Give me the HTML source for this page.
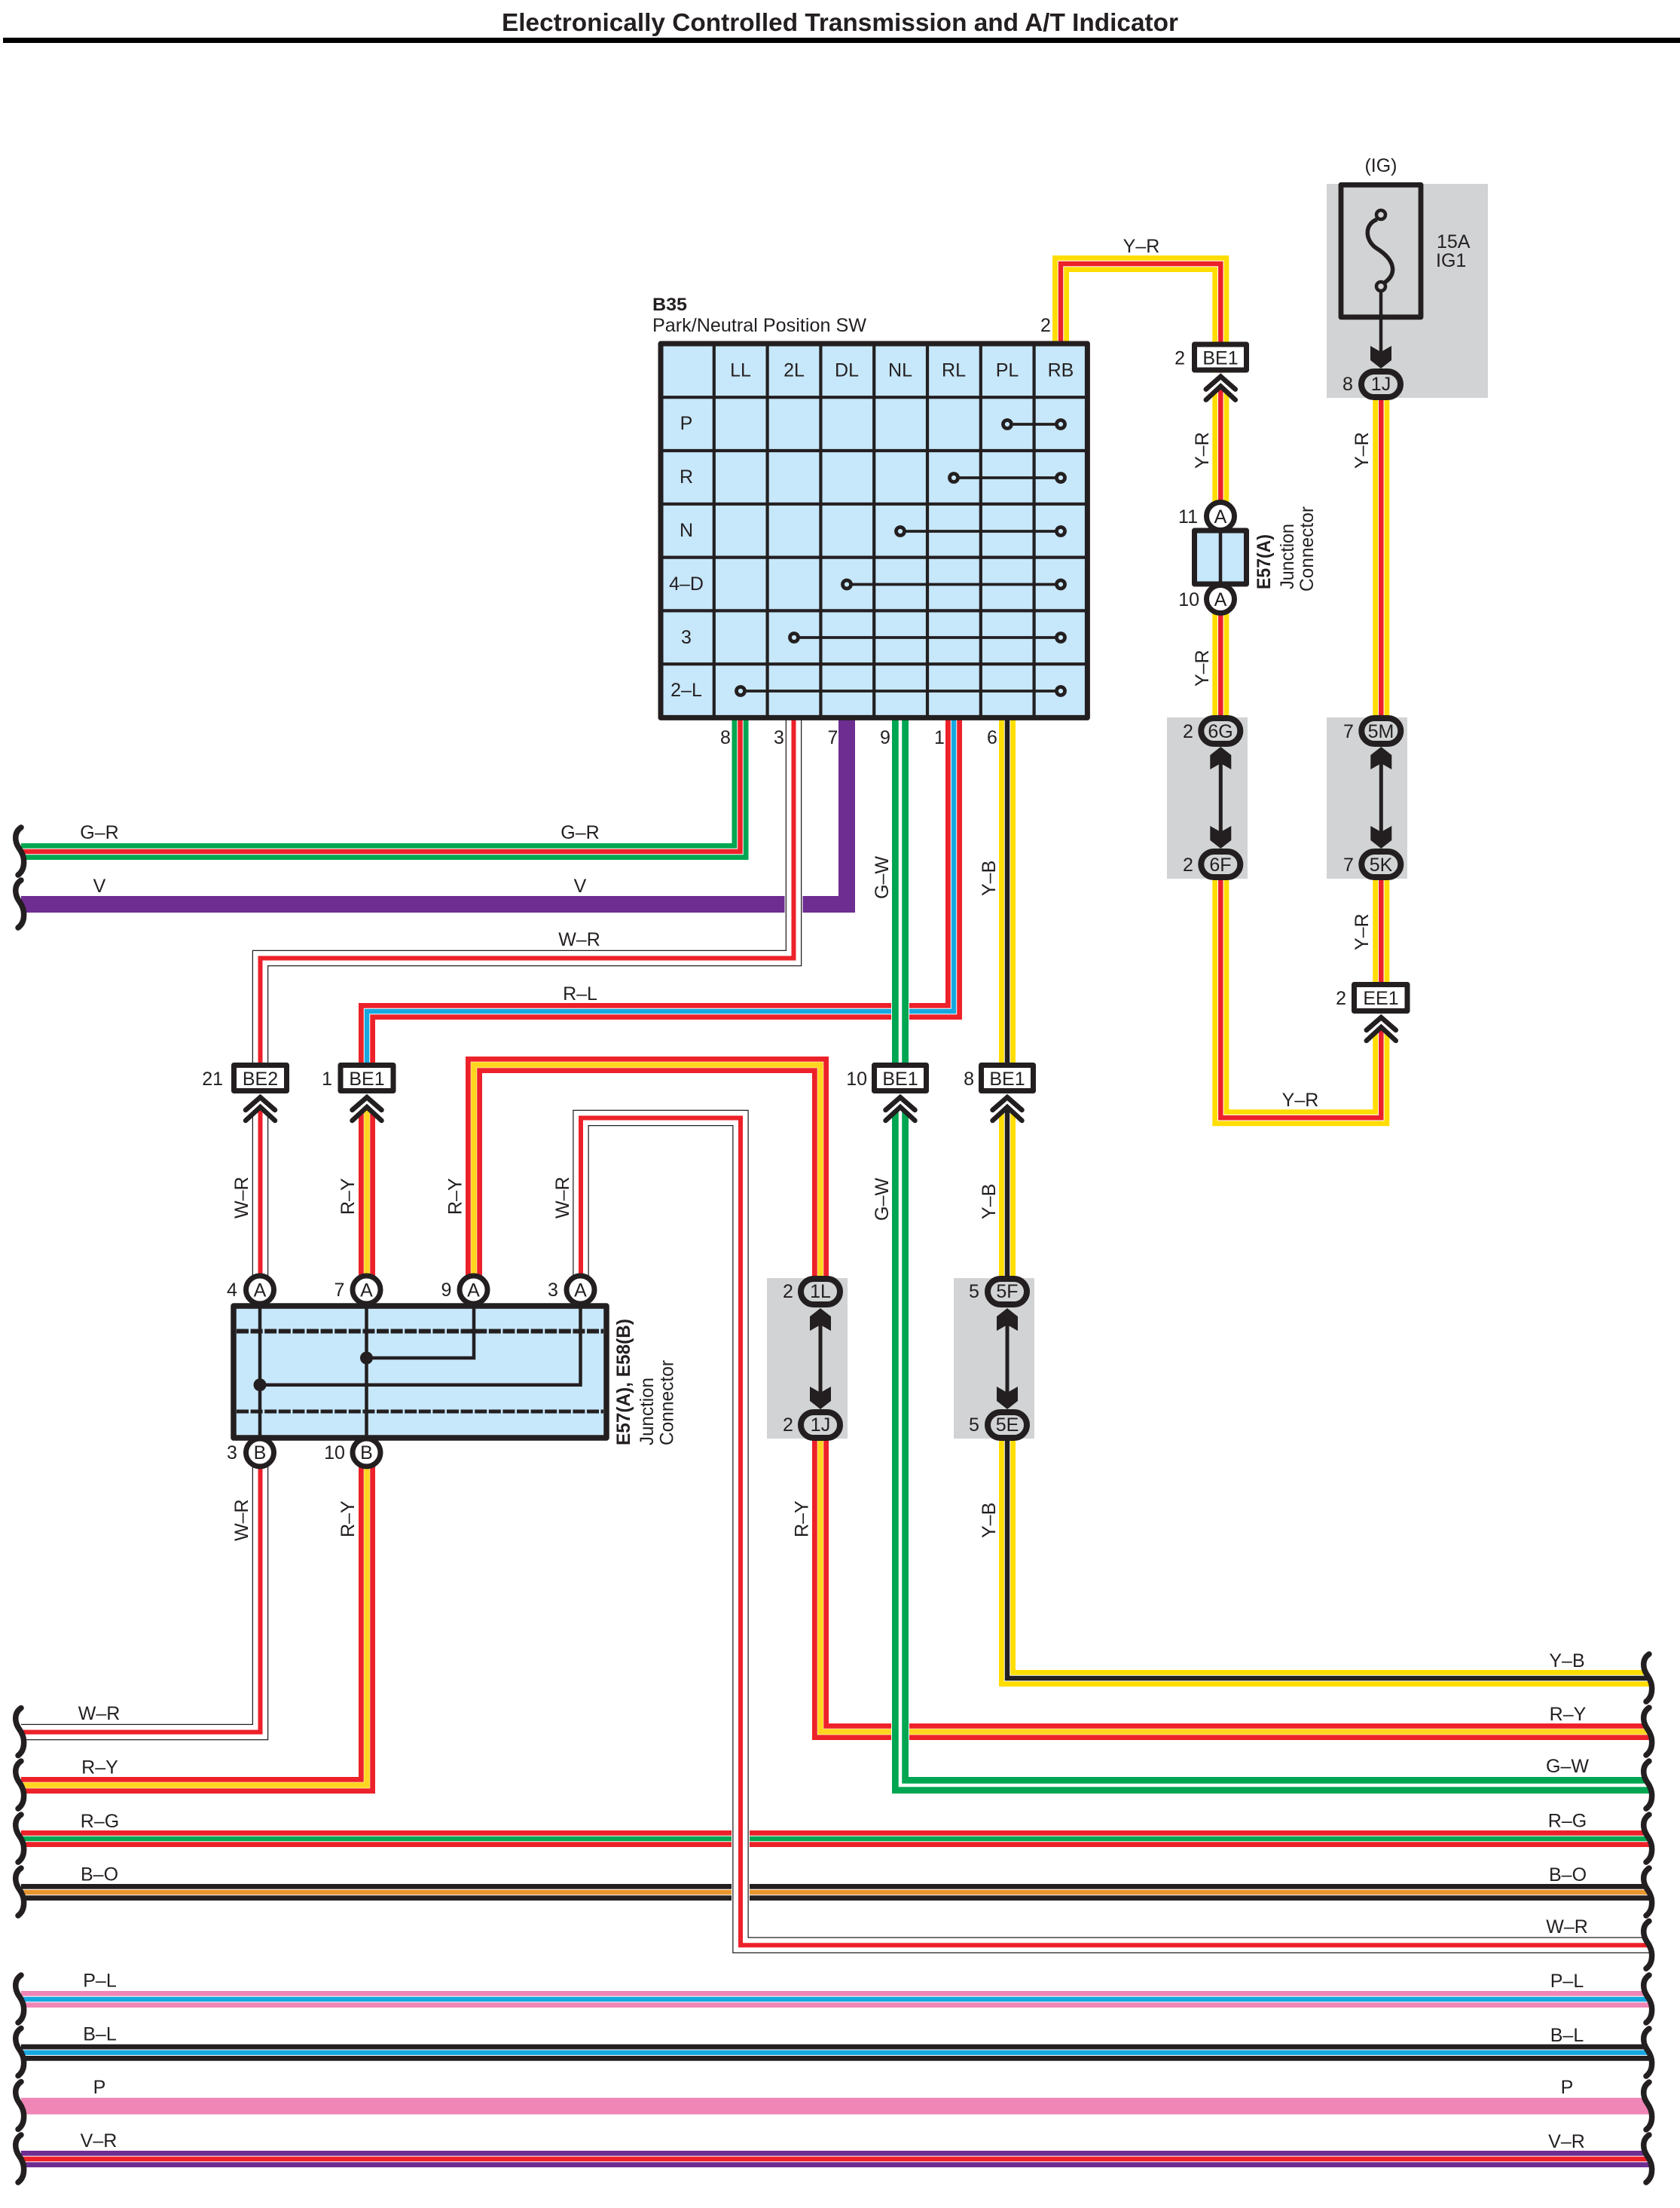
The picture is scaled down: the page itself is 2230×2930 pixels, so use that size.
<!DOCTYPE html>
<html>
<head>
<meta charset="utf-8">
<style>
html,body{margin:0;padding:0;background:#fff}
svg{display:block}
text{font-family:"Liberation Sans",Arial,sans-serif;font-size:25px;fill:#231f20}
.m{text-anchor:middle}
.e{text-anchor:end}
.b{font-weight:bold}
</style>
</head>
<body>
<svg xmlns="http://www.w3.org/2000/svg" width="2230" height="2930" viewBox="0 0 2230 2930">
<defs>
  <g id="wl">
    <path d="M28,-32C22,-28 20,-22 21,-15C22,-7 27,-3 29,2C31,6 32,12 31.5,17C31,23 28,28 24,31L0,31L0,-32Z" fill="#fff"/>
    <path d="M28,-32C22,-28 20,-22 21,-15C22,-7 27,-3 29,2C31,6 32,12 31.5,17C31,23 28,28 24,31" fill="none" stroke="#231f20" stroke-width="7.5" stroke-linecap="round"/>
  </g>
  <g id="wr">
    <path d="M2189,-32C2183,-28 2181,-22 2182,-15C2183,-7 2188,-3 2190,2C2192,6 2193,12 2192.5,17C2192,23 2189,28 2185,31L2230,31L2230,-32Z" fill="#fff"/>
    <path d="M2189,-32C2183,-28 2181,-22 2182,-15C2183,-7 2188,-3 2190,2C2192,6 2193,12 2192.5,17C2192,23 2189,28 2185,31" fill="none" stroke="#231f20" stroke-width="7.5" stroke-linecap="round"/>
  </g>
  <g id="chev">
    <polygon points="-24,0 24,0 24,41 0,17 -24,41" fill="#fff"/>
    <polyline points="-19.5,22 0,5 19.5,22" fill="none" stroke="#231f20" stroke-width="6.5" stroke-linecap="round"/>
    <polyline points="-19.5,36 0,18 19.5,36" fill="none" stroke="#231f20" stroke-width="6.5" stroke-linecap="round"/>
  </g>
  <polygon id="au" points="0,0 14,11 14,30 0,22 -14,30 -14,11" fill="#231f20"/>
  <polygon id="ad" points="0,0 14,-11 14,-30 0,-22 -14,-30 -14,-11" fill="#231f20"/>

  <path id="p-gr" d="M28,1130H982.5V950"/>
  <path id="p-v" d="M28,1200H1124V950"/>
  <path id="p-rl" d="M1266,950V1342H487V1411"/>
  <path id="p-wr1" d="M1053.5,950V1271.5H345.5V1411"/>
  <path id="p-wr2" d="M345.5,1711V1451"/>
  <path id="p-wr3" d="M345.5,1927V2298.5H28"/>
  <path id="p-wr4" d="M771,1711V1483.5H983V2581.3H2195"/>
  <path id="p-ry1" d="M487,1711V1451"/>
  <path id="p-ry2" d="M487,1927V2369H28"/>
  <path id="p-ry3" d="M629,1711V1413H1089V1714"/>
  <path id="p-ry4" d="M1089,1891V2298H2195"/>
  <path id="p-gw" d="M1195,950V2369H2195"/>
  <path id="p-yb1" d="M1337,950V1714"/>
  <path id="p-yb2" d="M1337,1891V2227H2195"/>
  <path id="p-yr1" d="M1408,460V350H1620.3V970"/>
  <path id="p-yr2" d="M1620.3,1147V1483.3H1833.3V1147"/>
  <path id="p-yr3" d="M1833.3,509V970"/>
</defs>

<rect width="2230" height="2930" fill="#fff"/>

<!-- title -->
<text x="666" y="41" class="b" style="font-size:33px" textLength="898" lengthAdjust="spacingAndGlyphs">Electronically Controlled Transmission and A/T Indicator</text>
<rect x="4" y="50" width="2226" height="7" fill="#000"/>

<!-- gray splice backgrounds -->
<g fill="#d1d3d4">
  <rect x="1761" y="244" width="214" height="284"/>
  <rect x="1549" y="952" width="107" height="214"/>
  <rect x="1761" y="952" width="107" height="214"/>
  <rect x="1018" y="1696" width="107" height="213"/>
  <rect x="1266" y="1696" width="107" height="213"/>
</g>

<g fill="none" stroke-linejoin="miter">
  <!-- through rows -->
  <path d="M28,2440H2195" stroke="#ed2129" stroke-width="22"/>
  <path d="M28,2440H2195" stroke="#fff" stroke-width="8.5"/>
  <path d="M28,2440H2195" stroke="#00a651" stroke-width="6.5"/>
  <path d="M28,2511H2195" stroke="#231f20" stroke-width="22"/>
  <path d="M28,2511H2195" stroke="#fff" stroke-width="8.5"/>
  <path d="M28,2511H2195" stroke="#e8962e" stroke-width="6.5"/>
  <path d="M28,2653H2195" stroke="#f086b5" stroke-width="22"/>
  <path d="M28,2653H2195" stroke="#fff" stroke-width="8.5"/>
  <path d="M28,2653H2195" stroke="#17a8e0" stroke-width="6.5"/>
  <path d="M28,2723.7H2195" stroke="#231f20" stroke-width="22"/>
  <path d="M28,2723.7H2195" stroke="#fff" stroke-width="8.5"/>
  <path d="M28,2723.7H2195" stroke="#17a8e0" stroke-width="6.5"/>
  <path d="M28,2794.7H2195" stroke="#f086b5" stroke-width="22"/>
  <path d="M28,2865H2195" stroke="#6e2d91" stroke-width="22"/>
  <path d="M28,2865H2195" stroke="#fff" stroke-width="8.5"/>
  <path d="M28,2865H2195" stroke="#ed2129" stroke-width="6.5"/>

  <!-- G-R -->
  <use href="#p-gr" stroke="#00a651" stroke-width="22"/>
  <use href="#p-gr" stroke="#fff" stroke-width="8.5"/>
  <use href="#p-gr" stroke="#ed2129" stroke-width="6.5"/>
  <!-- V -->
  <use href="#p-v" stroke="#6e2d91" stroke-width="22"/>
  <!-- R-L -->
  <use href="#p-rl" stroke="#ed2129" stroke-width="22"/>
  <use href="#p-rl" stroke="#fff" stroke-width="8.5"/>
  <use href="#p-rl" stroke="#17a8e0" stroke-width="6.5"/>
  <!-- R-Y -->
  <g stroke="#ed2129" stroke-width="22">
    <use href="#p-ry1"/><use href="#p-ry2"/><use href="#p-ry3"/><use href="#p-ry4"/>
  </g>
  <g stroke="#fff" stroke-width="8.5">
    <use href="#p-ry1"/><use href="#p-ry2"/><use href="#p-ry3"/><use href="#p-ry4"/>
  </g>
  <g stroke="#ffd520" stroke-width="7.5">
    <use href="#p-ry1"/><use href="#p-ry2"/><use href="#p-ry3"/><use href="#p-ry4"/>
  </g>
  <!-- Y-B -->
  <g stroke="#ffdd00" stroke-width="22"><use href="#p-yb1"/><use href="#p-yb2"/></g>
  <g stroke="#fff" stroke-width="8.5"><use href="#p-yb1"/><use href="#p-yb2"/></g>
  <g stroke="#231f20" stroke-width="6.5"><use href="#p-yb1"/><use href="#p-yb2"/></g>
  <!-- Y-R -->
  <g stroke="#ffdd00" stroke-width="22"><use href="#p-yr1"/><use href="#p-yr2"/><use href="#p-yr3"/></g>
  <g stroke="#fff" stroke-width="8.5"><use href="#p-yr1"/><use href="#p-yr2"/><use href="#p-yr3"/></g>
  <g stroke="#ed2129" stroke-width="6.5"><use href="#p-yr1"/><use href="#p-yr2"/><use href="#p-yr3"/></g>
  <!-- G-W over others -->
  <use href="#p-gw" stroke="#fff" stroke-width="24"/>
  <use href="#p-gw" stroke="#00a651" stroke-width="22"/>
  <use href="#p-gw" stroke="#fff" stroke-width="4.5"/>
  <!-- W-R -->
  <g stroke="#fff" stroke-width="24"><use href="#p-wr1"/><use href="#p-wr4"/></g>
  <g stroke="#231f20" stroke-width="21.5"><use href="#p-wr1"/><use href="#p-wr2"/><use href="#p-wr3"/><use href="#p-wr4"/></g>
  <g stroke="#fff" stroke-width="19"><use href="#p-wr1"/><use href="#p-wr2"/><use href="#p-wr3"/><use href="#p-wr4"/></g>
  <g stroke="#ed2129" stroke-width="6"><use href="#p-wr1"/><use href="#p-wr2"/><use href="#p-wr3"/><use href="#p-wr4"/></g>
</g>

<!-- left waves -->
<use href="#wl" y="1130"/><use href="#wl" y="1200"/>
<use href="#wl" y="2298.5"/><use href="#wl" y="2369"/><use href="#wl" y="2440"/><use href="#wl" y="2511"/>
<use href="#wl" y="2653"/><use href="#wl" y="2723.5"/><use href="#wl" y="2794.5"/><use href="#wl" y="2865"/>
<!-- right waves -->
<use href="#wr" y="2227"/><use href="#wr" y="2298"/><use href="#wr" y="2369"/><use href="#wr" y="2440"/><use href="#wr" y="2511"/>
<use href="#wr" y="2581.3"/><use href="#wr" y="2653"/><use href="#wr" y="2724"/><use href="#wr" y="2795"/><use href="#wr" y="2865"/>

<!-- switch table -->
<rect x="877" y="456" width="566.4" height="496.4" fill="#c7e7fa"/>
<path d="M947.8,456V952M1018.6,456V952M1089.4,456V952M1160.2,456V952M1231,456V952M1301.8,456V952M1372.6,456V952M877,527.2H1443M877,598H1443M877,668.8H1443M877,739.6H1443M877,810.4H1443M877,881.2H1443" stroke="#231f20" stroke-width="4.2" fill="none"/>
<rect x="877" y="456" width="566.4" height="496.4" fill="none" stroke="#231f20" stroke-width="7" stroke-linejoin="round"/>
<g stroke="#231f20" stroke-width="3.8" fill="none">
  <path d="M1337,563H1408M1266,634H1408M1195,705H1408M1124,775.5H1408M1054,846H1408M983,917H1408"/>
</g>
<g fill="#c7e7fa" stroke="#231f20" stroke-width="4.8">
  <circle cx="1337" cy="563" r="5.5"/><circle cx="1408" cy="563" r="5.5"/>
  <circle cx="1266" cy="634" r="5.5"/><circle cx="1408" cy="634" r="5.5"/>
  <circle cx="1195" cy="705" r="5.5"/><circle cx="1408" cy="705" r="5.5"/>
  <circle cx="1124" cy="775.5" r="5.5"/><circle cx="1408" cy="775.5" r="5.5"/>
  <circle cx="1054" cy="846" r="5.5"/><circle cx="1408" cy="846" r="5.5"/>
  <circle cx="983" cy="917" r="5.5"/><circle cx="1408" cy="917" r="5.5"/>
</g>
<g>
  <text x="983" y="499.5" text-anchor="middle">LL</text>
  <text x="1054" y="499.5" text-anchor="middle">2L</text>
  <text x="1124" y="499.5" text-anchor="middle">DL</text>
  <text x="1195" y="499.5" text-anchor="middle">NL</text>
  <text x="1266" y="499.5" text-anchor="middle">RL</text>
  <text x="1337" y="499.5" text-anchor="middle">PL</text>
  <text x="1408" y="499.5" text-anchor="middle">RB</text>
  <text x="911" y="570" text-anchor="middle">P</text>
  <text x="911" y="641" text-anchor="middle">R</text>
  <text x="911" y="712" text-anchor="middle">N</text>
  <text x="911" y="783" text-anchor="middle">4–D</text>
  <text x="911" y="854" text-anchor="middle">3</text>
  <text x="911" y="924" text-anchor="middle">2–L</text>
</g>
<text x="866" y="412" textLength="46" lengthAdjust="spacingAndGlyphs" style="font-weight:bold;font-size:24px">B35</text>
<text x="866" y="440" textLength="284" lengthAdjust="spacingAndGlyphs">Park/Neutral Position SW</text>

<!-- pin numbers around table -->
<text x="1388" y="440" class="m">2</text>
<text x="963" y="987" class="m">8</text>
<text x="1034" y="987" class="m">3</text>
<text x="1105.5" y="987" class="m">7</text>
<text x="1175" y="987" class="m">9</text>
<text x="1247" y="987" class="m">1</text>
<text x="1317" y="987" class="m">6</text>

<!-- fuse -->
<rect x="1780" y="245.3" width="106" height="175.5" fill="#d1d3d4" stroke="#231f20" stroke-width="6.8" stroke-linejoin="round"/>
<path d="M1828,291C1810,298 1812,320 1828,330C1850,344 1856,362 1838,375" fill="none" stroke="#231f20" stroke-width="5.5"/>
<circle cx="1833" cy="285" r="6" fill="#d1d3d4" stroke="#231f20" stroke-width="4.5"/>
<circle cx="1833" cy="380" r="6" fill="#d1d3d4" stroke="#231f20" stroke-width="4.5"/>
<path d="M1833,386V470" stroke="#231f20" stroke-width="4.5"/>
<use href="#ad" x="1833" y="489"/>
<text x="1833" y="228" class="m">(IG)</text>
<text x="1907" y="329">15A</text>
<text x="1906" y="354">IG1</text>

<!-- splice arrows -->
<g stroke="#231f20" stroke-width="5" fill="none">
  <path d="M1620.3,1000V1120M1833.3,1000V1120M1089,1750V1860M1337,1750V1860"/>
</g>
<use href="#au" x="1620.3" y="991"/><use href="#ad" x="1620.3" y="1126"/>
<use href="#au" x="1833.3" y="991"/><use href="#ad" x="1833.3" y="1126"/>
<use href="#au" x="1089" y="1736"/><use href="#ad" x="1089" y="1870"/>
<use href="#au" x="1337" y="1736"/><use href="#ad" x="1337" y="1870"/>

<!-- ovals -->
<g fill="#d1d3d4" stroke="#231f20" stroke-width="8">
  <rect x="1807" y="493" width="52" height="34" rx="17"/>
  <rect x="1594.3" y="953" width="52" height="34" rx="17"/>
  <rect x="1594.3" y="1130" width="52" height="34" rx="17"/>
  <rect x="1807.3" y="953" width="52" height="34" rx="17"/>
  <rect x="1807.3" y="1130" width="52" height="34" rx="17"/>
  <rect x="1063" y="1697" width="52" height="34" rx="17"/>
  <rect x="1063" y="1874" width="52" height="34" rx="17"/>
  <rect x="1311" y="1697" width="52" height="34" rx="17"/>
  <rect x="1311" y="1874" width="52" height="34" rx="17"/>
</g>
<g>
  <text x="1833" y="518" class="m">1J</text><text x="1789" y="518" class="m">8</text>
  <text x="1620" y="979" class="m">6G</text><text x="1577" y="979" class="m">2</text>
  <text x="1620" y="1156" class="m">6F</text><text x="1577" y="1156" class="m">2</text>
  <text x="1833" y="979" class="m">5M</text><text x="1790" y="979" class="m">7</text>
  <text x="1833" y="1156" class="m">5K</text><text x="1790" y="1156" class="m">7</text>
  <text x="1089" y="1722" class="m">1L</text><text x="1046" y="1722" class="m">2</text>
  <text x="1089" y="1899" class="m">1J</text><text x="1046" y="1899" class="m">2</text>
  <text x="1337" y="1722" class="m">5F</text><text x="1293" y="1722" class="m">5</text>
  <text x="1337" y="1899" class="m">5E</text><text x="1293" y="1899" class="m">5</text>
</g>

<!-- chevrons -->
<use href="#chev" x="345.5" y="1451"/>
<use href="#chev" x="487" y="1451"/>
<use href="#chev" x="1195" y="1451"/>
<use href="#chev" x="1337" y="1451"/>
<use href="#chev" x="1620.3" y="494.6"/>
<use href="#chev" x="1833.3" y="1345"/>

<!-- connector boxes -->
<g fill="#fff" stroke="#231f20" stroke-width="7" stroke-linejoin="round">
  <rect x="310.5" y="1413.5" width="70" height="34"/>
  <rect x="452" y="1413.5" width="70" height="34"/>
  <rect x="1160.5" y="1413.5" width="69" height="34"/>
  <rect x="1302.5" y="1413.5" width="69" height="34"/>
  <rect x="1585.5" y="457" width="69" height="34"/>
  <rect x="1797.5" y="1306.5" width="70.5" height="35"/>
</g>
<text x="345.5" y="1440" class="m">BE2</text><text x="296" y="1440" class="e">21</text>
<text x="487" y="1440" class="m">BE1</text><text x="441" y="1440" class="e">1</text>
<text x="1195" y="1440" class="m">BE1</text><text x="1151" y="1440" class="e">10</text>
<text x="1337" y="1440" class="m">BE1</text><text x="1293" y="1440" class="e">8</text>
<text x="1620" y="483.5" class="m">BE1</text><text x="1573" y="483.5" class="e">2</text>
<text x="1833" y="1333" class="m">EE1</text><text x="1787" y="1333" class="e">2</text>

<!-- E57(A) small junction -->
<rect x="1585.5" y="704" width="69" height="71" fill="#c7e7fa" stroke="#231f20" stroke-width="7" stroke-linejoin="round"/>
<path d="M1620,704V775" stroke="#231f20" stroke-width="4.5"/>
<circle cx="1620" cy="685" r="18.5" fill="#fff" stroke="#231f20" stroke-width="7"/>
<circle cx="1620" cy="795" r="18.5" fill="#fff" stroke="#231f20" stroke-width="7"/>
<text x="1620" y="694" class="m">A</text>
<text x="1620" y="804" class="m">A</text>
<text x="1590" y="694" class="e">11</text>
<text x="1592" y="804" class="e">10</text>
<text transform="translate(1686,782) rotate(-90)" class="b" textLength="73" lengthAdjust="spacingAndGlyphs">E57(A)</text>
<text transform="translate(1717,782) rotate(-90)" textLength="87" lengthAdjust="spacingAndGlyphs">Junction</text>
<text transform="translate(1743,785) rotate(-90)" textLength="113" lengthAdjust="spacingAndGlyphs">Connector</text>

<!-- large junction -->
<rect x="310" y="1733" width="495" height="175" fill="#c7e7fa" stroke="#231f20" stroke-width="7.5" stroke-linejoin="round"/>
<path d="M314,1766.5H801" stroke="#231f20" stroke-width="6" stroke-dasharray="16 2.6" fill="none"/>
<path d="M314,1873H801" stroke="#231f20" stroke-width="5" stroke-dasharray="16 2.6" fill="none"/>
<g stroke="#231f20" stroke-width="4.5" fill="none">
  <path d="M345,1730V1910M486.5,1730V1910M629,1730V1802H486.5M770.5,1730V1837.7H345"/>
</g>
<circle cx="486.5" cy="1802" r="8.5" fill="#231f20"/>
<circle cx="345" cy="1837.7" r="8.5" fill="#231f20"/>
<g fill="#fff" stroke="#231f20" stroke-width="7">
  <circle cx="345" cy="1711.5" r="18.5"/>
  <circle cx="486.5" cy="1711.5" r="18.5"/>
  <circle cx="628.5" cy="1711.5" r="18.5"/>
  <circle cx="770.5" cy="1711.5" r="18.5"/>
  <circle cx="345" cy="1927.5" r="18.5"/>
  <circle cx="486.5" cy="1927.5" r="18.5"/>
</g>
<text x="345" y="1720.5" class="m">A</text><text x="308" y="1720" class="m">4</text>
<text x="486.5" y="1720.5" class="m">A</text><text x="450.5" y="1720" class="m">7</text>
<text x="628.5" y="1720.5" class="m">A</text><text x="592.5" y="1720" class="m">9</text>
<text x="770.5" y="1720.5" class="m">A</text><text x="734" y="1720" class="m">3</text>
<text x="345" y="1936" class="m">B</text><text x="308" y="1936" class="m">3</text>
<text x="486.5" y="1936" class="m">B</text><text x="444" y="1936" class="m">10</text>
<text transform="translate(836,1918) rotate(-90)" class="b" textLength="168" lengthAdjust="spacingAndGlyphs">E57(A), E58(B)</text>
<text transform="translate(867,1918) rotate(-90)" textLength="90" lengthAdjust="spacingAndGlyphs">Junction</text>
<text transform="translate(893.5,1918) rotate(-90)" textLength="113" lengthAdjust="spacingAndGlyphs">Connector</text>

<!-- horizontal wire labels -->
<text x="132" y="1113" class="m">G–R</text>
<text x="770" y="1113" class="m">G–R</text>
<text x="132" y="1184" class="m">V</text>
<text x="770" y="1184" class="m">V</text>
<text x="769" y="1255" class="m">W–R</text>
<text x="770" y="1327" class="m">R–L</text>
<text x="1515" y="335" class="m">Y–R</text>
<text x="1726" y="1468" class="m">Y–R</text>

<text x="131.5" y="2282" class="m">W–R</text>
<text x="132.5" y="2353.5" class="m">R–Y</text>
<text x="132.5" y="2425" class="m">R–G</text>
<text x="132" y="2495.5" class="m">B–O</text>
<text x="132.5" y="2636.7" class="m">P–L</text>
<text x="132.5" y="2707.4" class="m">B–L</text>
<text x="132" y="2778" class="m">P</text>
<text x="131" y="2849" class="m">V–R</text>

<text x="2080" y="2212" class="m">Y–B</text>
<text x="2081" y="2283" class="m">R–Y</text>
<text x="2080.5" y="2352" class="m">G–W</text>
<text x="2080.5" y="2424.5" class="m">R–G</text>
<text x="2081" y="2496" class="m">B–O</text>
<text x="2080" y="2565" class="m">W–R</text>
<text x="2080" y="2637" class="m">P–L</text>
<text x="2080" y="2709" class="m">B–L</text>
<text x="2080" y="2778" class="m">P</text>
<text x="2079.5" y="2850" class="m">V–R</text>

<!-- rotated wire labels -->
<text transform="translate(1179,1193) rotate(-90)">G–W</text>
<text transform="translate(1321,1189) rotate(-90)">Y–B</text>
<text transform="translate(1179,1620) rotate(-90)">G–W</text>
<text transform="translate(1321,1618) rotate(-90)">Y–B</text>
<text transform="translate(1321,2041) rotate(-90)">Y–B</text>
<text transform="translate(329,1617) rotate(-90)">W–R</text>
<text transform="translate(470,1612) rotate(-90)">R–Y</text>
<text transform="translate(612.5,1612) rotate(-90)">R–Y</text>
<text transform="translate(755,1617) rotate(-90)">W–R</text>
<text transform="translate(329,2045) rotate(-90)">W–R</text>
<text transform="translate(470,2040) rotate(-90)">R–Y</text>
<text transform="translate(1072.5,2040) rotate(-90)">R–Y</text>
<text transform="translate(1604,622) rotate(-90)">Y–R</text>
<text transform="translate(1604,911) rotate(-90)">Y–R</text>
<text transform="translate(1816,622) rotate(-90)">Y–R</text>
<text transform="translate(1816,1261) rotate(-90)">Y–R</text>
</svg>
</body>
</html>
